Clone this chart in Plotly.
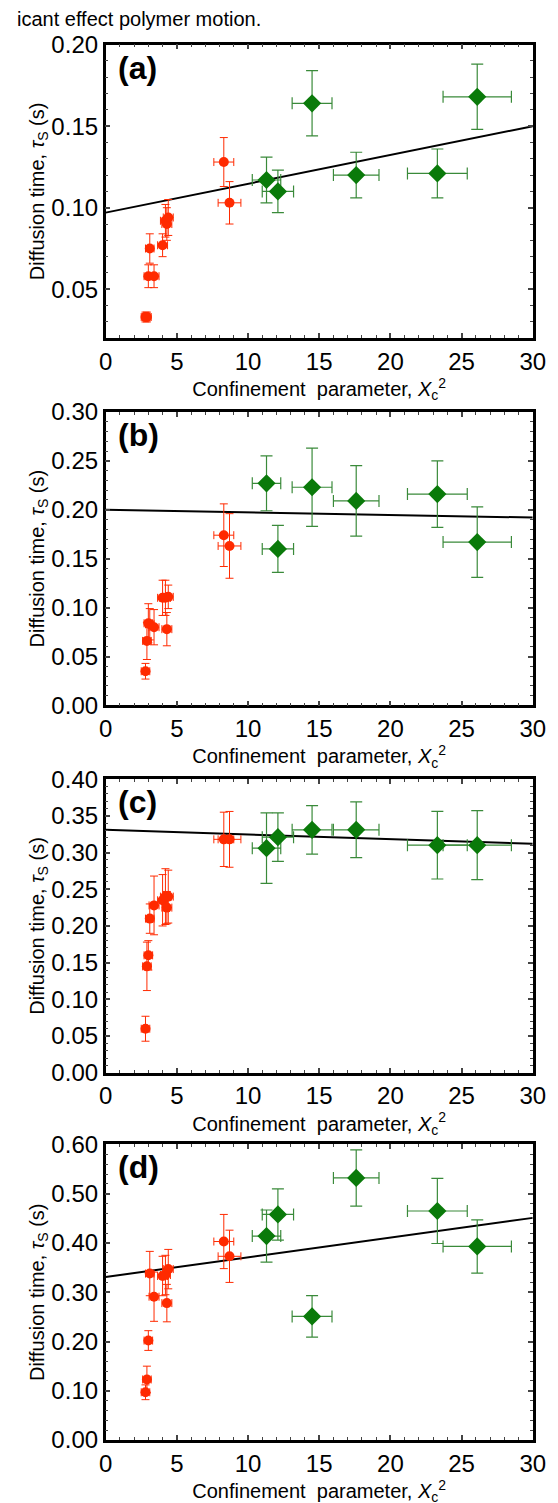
import plotly.graph_objects as go

# green (diamond) series, shared x across panels
green_x = [11.3, 12.1, 14.5, 17.6, 23.3, 26.1]
green_xerr = [1.0, 1.1, 1.4, 1.6, 2.1, 2.4]
red_x = [2.8, 2.9, 3.0, 3.1, 3.4, 4.0, 4.2, 4.3, 4.4, 8.3, 8.7]
red_xerr = [0.3, 0.3, 0.3, 0.3, 0.35, 0.35, 0.35, 0.35, 0.35, 0.7, 0.8]

green_a = [0.117, 0.110, 0.164, 0.120, 0.121, 0.168]
green_a_err = [0.014, 0.013, 0.020, 0.014, 0.015, 0.020]
red_a = [0.033, 0.033, 0.058, 0.075, 0.058, 0.077, 0.092, 0.090, 0.094, 0.128, 0.103]
red_a_err = [0.003, 0.003, 0.007, 0.009, 0.007, 0.007, 0.010, 0.010, 0.011, 0.015, 0.013]
fit_a = [0.097, 0.150]

green_b = [0.227, 0.160, 0.223, 0.209, 0.216, 0.167]
green_b_err = [0.028, 0.024, 0.040, 0.036, 0.034, 0.036]
red_b = [0.035, 0.066, 0.084, 0.083, 0.080, 0.110, 0.110, 0.078, 0.111, 0.174, 0.163]
red_b_err = [0.008, 0.019, 0.020, 0.016, 0.018, 0.018, 0.018, 0.017, 0.012, 0.032, 0.033]
fit_b = [0.200, 0.192]

green_c = [0.306, 0.321, 0.331, 0.331, 0.310, 0.310]
green_c_err = [0.048, 0.033, 0.033, 0.038, 0.046, 0.047]
red_c = [0.060, 0.145, 0.160, 0.210, 0.228, 0.235, 0.240, 0.225, 0.240, 0.318, 0.318]
red_c_err = [0.017, 0.033, 0.020, 0.020, 0.040, 0.035, 0.038, 0.022, 0.036, 0.037, 0.038]
fit_c = [0.331, 0.312]

green_d = [0.414, 0.458, 0.251, 0.532, 0.465, 0.393]
green_d_err = [0.053, 0.052, 0.042, 0.057, 0.066, 0.054]
red_d = [0.097, 0.123, 0.202, 0.338, 0.291, 0.333, 0.335, 0.278, 0.347, 0.403, 0.373]
red_d_err = [0.015, 0.027, 0.020, 0.045, 0.050, 0.040, 0.040, 0.038, 0.040, 0.055, 0.053]
fit_d = [0.331, 0.451]

fit_x = [0, 30]
labels = ["(a)", "(b)", "(c)", "(d)"]
y_ranges = [[0.02, 0.20], [0, 0.30], [0, 0.40], [0, 0.60]]
y_ticks = [
    [0.05, 0.10, 0.15, 0.20],
    [0, 0.05, 0.10, 0.15, 0.20, 0.25, 0.30],
    [0, 0.05, 0.10, 0.15, 0.20, 0.25, 0.30, 0.35, 0.40],
    [0, 0.10, 0.20, 0.30, 0.40, 0.50, 0.60],
]
# pixel tops/bottoms of each plot frame
W, H = 558, 1503
frames = [(23, 322), (397, 696), (771, 1070), (1143, 1444)]
domains = [[1 - b / H, 1 - t / H] for t, b in frames]
x_dom = [94 / W, 537 / W]
panels = [
    (green_a, green_a_err, red_a, red_a_err, fit_a),
    (green_b, green_b_err, red_b, red_b_err, fit_b),
    (green_c, green_c_err, red_c, red_c_err, fit_c),
    (green_d, green_d_err, red_d, red_d_err, fit_d),
]

red = "#ff2a00"
green = "#0a7a0a"
font = "Liberation Sans, Arial, sans-serif"

fig = go.Figure()
layout = {}
for i, (gy, gerr, ry, rerr, fy) in enumerate(panels):
    n = i + 1
    xa = "x" if n == 1 else f"x{n}"
    ya = "y" if n == 1 else f"y{n}"
    fig.add_trace(go.Scatter(x=fit_x, y=fy, mode="lines", line=dict(color="black", width=2),
                             xaxis=xa, yaxis=ya, showlegend=False))
    fig.add_trace(go.Scatter(
        x=red_x, y=ry, mode="markers", xaxis=xa, yaxis=ya, showlegend=False,
        marker=dict(color=red, size=10, symbol="circle"),
        error_x=dict(array=red_xerr, color=red, thickness=1, width=4),
        error_y=dict(array=rerr, color=red, thickness=1, width=4)))
    fig.add_trace(go.Scatter(
        x=green_x, y=gy, mode="markers", xaxis=xa, yaxis=ya, showlegend=False,
        marker=dict(color=green, size=14, symbol="diamond"),
        error_x=dict(array=green_xerr, color="#3a8a3a", thickness=1.2, width=6),
        error_y=dict(array=gerr, color="#3a8a3a", thickness=1.2, width=6)))
    common = dict(showline=True, linecolor="black", linewidth=2.5, mirror="ticks",
                  ticks="inside", ticklen=5, tickwidth=1.5, showgrid=False, zeroline=False,
                  tickfont=dict(size=24, family=font, color="black"))
    layout["xaxis" if n == 1 else f"xaxis{n}"] = dict(
        common, domain=x_dom, range=[0, 30], tickvals=[0, 5, 10, 15, 20, 25, 30],
        anchor=ya, minor=dict(ticks="inside", ticklen=3, tickwidth=1, dtick=1),
        title=dict(text="Confinement  parameter, <i>X</i><sub>c</sub><sup>2</sup>",
                   font=dict(size=20, family=font, color="black"), standoff=0))
    layout["yaxis" if n == 1 else f"yaxis{n}"] = dict(
        common, domain=domains[i], range=y_ranges[i], tickvals=y_ticks[i], tickformat=".2f",
        anchor=xa, minor=dict(ticks="inside", ticklen=3, tickwidth=1,
                              dtick=(y_ticks[i][1] - y_ticks[i][0]) / 5),
        title=dict(text="Diffusion time, <i>τ</i><sub>S</sub> (s)",
                   font=dict(size=20, family=font, color="black"), standoff=2))
    fig.add_annotation(text="<b>" + labels[i] + "</b>", x=0.025, y=0.99, xref=f"{xa} domain",
                       yref=f"{ya} domain", xanchor="left", yanchor="top", showarrow=False,
                       font=dict(size=32, family=font, color="black"))

fig.add_annotation(text="icant effect polymer motion.", x=0.0, y=1.0, xref="paper", yref="paper",
                   xanchor="left", yanchor="middle", showarrow=False, yshift=3,
                   font=dict(size=20, family=font, color="black"))

fig.update_layout(**layout, width=W, height=H, margin=dict(l=0, r=0, t=0, b=0),
                  plot_bgcolor="white", paper_bgcolor="white")
fig.write_html("out.html")
